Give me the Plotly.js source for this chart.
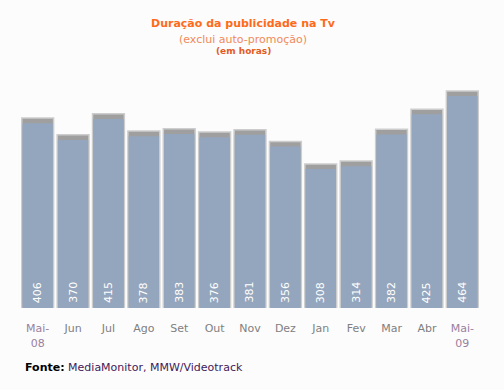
<!DOCTYPE html>
<html><head><meta charset="utf-8">
<script src="https://cdn.plot.ly/plotly-3.0.1.min.js"></script>
<style>html,body{margin:0;padding:0;background:#fcfcfc;}</style>
</head><body>
<div id="chart" style="width:504px;height:390px;"></div>
<script>
const months = ["Mai-08","Jun","Jul","Ago","Set","Out","Nov","Dez","Jan","Fev","Mar","Abr","Mai-09"];
const tickLabels = ["<span style='color:#9a809f'>Mai-</span><br><span style='color:#9a809f'>08</span>","Jun","Jul","Ago","Set","Out","Nov","Dez","Jan","Fev","Mar","Abr","<span style='color:#9a809f'>Mai-</span><br><span style='color:#9a809f'>09</span>"];
const hours = [406,370,415,378,383,376,381,356,308,314,382,425,464];
const capUnits = 11;   // visual height of the grey cap, in value units
const labelLevel = 33; // where the rotated value labels sit, in value units

const font = "DejaVu Sans, Verdana, sans-serif";
const shadow = {
  type:"bar", x:months, y:hours, width:0.9,
  marker:{color:"#9f9f9f", line:{color:"#cdcdcd", width:1.5}},
  hoverinfo:"skip", showlegend:false
};
const body = {
  type:"bar", x:months, y:hours.map(v=>v-capUnits), width:0.86,
  marker:{color:"#94a6bd", line:{width:0}},
  showlegend:false
};
const valueLabels = months.map((m,i)=>({
  x:m, y:labelLevel, xref:"x", yref:"y", showarrow:false, textangle:-90,
  xanchor:"center", yanchor:"middle",
  text:String(hours[i]), font:{family:font, size:11, color:"#ffffff"}
}));
const layout = {
  width:504, height:390,
  margin:{l:20, r:24, t:60, b:82},
  paper_bgcolor:"#fcfcfc", plot_bgcolor:"#fcfcfc",
  barmode:"overlay", bargap:0.1,
  font:{family:font},
  xaxis:{tickvals:months, ticktext:tickLabels, tickfont:{size:11, color:"#808080"},
         showline:false, showgrid:false, zeroline:false, ticks:"outside", ticklen:10, tickcolor:"rgba(0,0,0,0)"},
  yaxis:{range:[0,530], visible:false, showgrid:false, zeroline:false},
  annotations:valueLabels.concat([
    {xref:"paper", yref:"paper", x:0.485, y:1, yshift:37, xanchor:"center", yanchor:"middle", showarrow:false,
     text:"<b>Duração da publicidade na Tv</b>", font:{size:11, color:"#ff6a1a", family:font}},
    {xref:"paper", yref:"paper", x:0.485, y:1, yshift:21, xanchor:"center", yanchor:"middle", showarrow:false,
     text:"(exclui auto-promoção)", font:{size:11, color:"#f08a5a", family:font}},
    {xref:"paper", yref:"paper", x:0.485, y:1, yshift:9, xanchor:"center", yanchor:"middle", showarrow:false,
     text:"<b>(em horas)</b>", font:{size:9, color:"#e25a22", family:font}},
    {xref:"paper", yref:"paper", x:0.007, y:0, yshift:-59, xanchor:"left", yanchor:"middle", showarrow:false,
     text:"<b>Fonte:</b> <span style='color:#42205a'>MediaMonitor, MMW/Videotrack</span>", font:{size:11, color:"#000000", family:font}}
  ])
};
Plotly.newPlot("chart", [shadow, body], layout, {displayModeBar:false, staticPlot:true});
</script>
</body></html>
